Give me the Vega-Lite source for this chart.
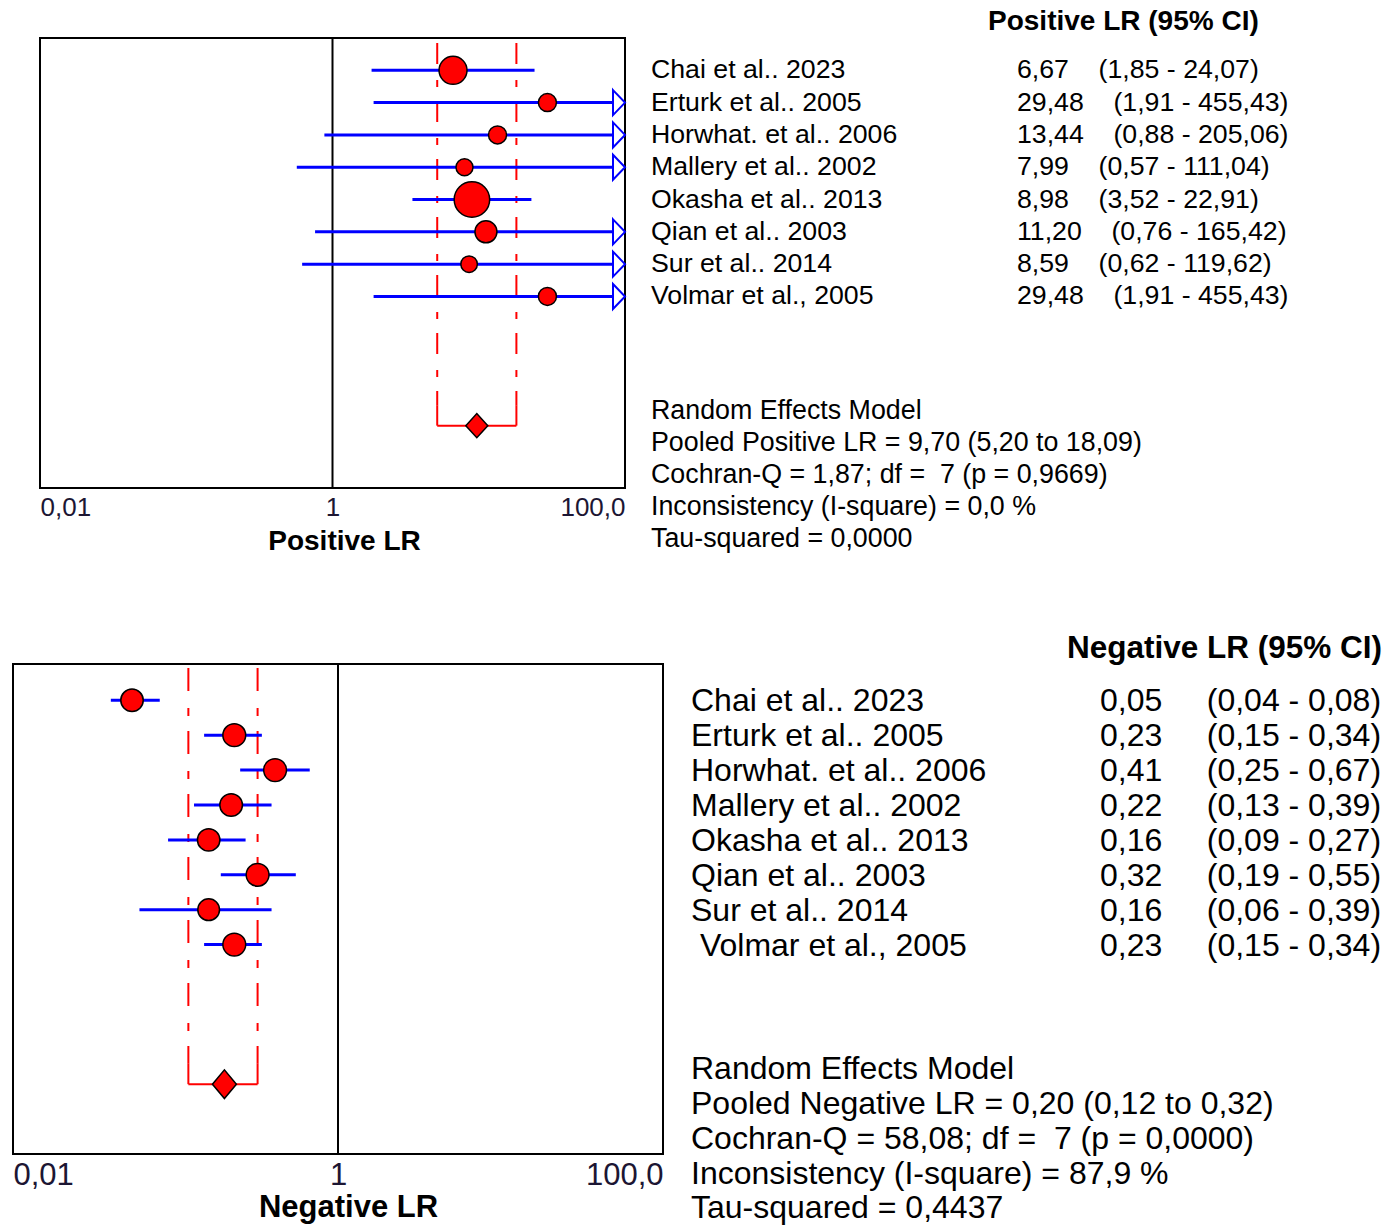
{
  "$schema": "https://vega.github.io/schema/vega-lite/v6.json",
  "padding": {"left": 12, "top": 8, "right": 0, "bottom": 0},
  "autosize": {"type": "pad"},
  "background": "white",
  "config": {
    "view": {"stroke": null},
    "font": "Liberation Sans"
  },
  "datasets": {
    "pos": [
      {"row": 1, "study": "Chai et al.. 2023", "lr": 6.67, "lo": 1.85, "hi": 24.07, "w": 19.3, "stat": "6,67\u00a0\u00a0\u00a0\u00a0(1,85 - 24,07)"},
      {"row": 2, "study": "Erturk et al.. 2005", "lr": 29.48, "lo": 1.91, "hi": 455.43, "w": 8.0, "stat": "29,48\u00a0\u00a0\u00a0\u00a0(1,91 - 455,43)"},
      {"row": 3, "study": "Horwhat. et al.. 2006", "lr": 13.44, "lo": 0.88, "hi": 205.06, "w": 8.0, "stat": "13,44\u00a0\u00a0\u00a0\u00a0(0,88 - 205,06)"},
      {"row": 4, "study": "Mallery et al.. 2002", "lr": 7.99, "lo": 0.57, "hi": 111.04, "w": 7.1, "stat": "7,99\u00a0\u00a0\u00a0\u00a0(0,57 - 111,04)"},
      {"row": 5, "study": "Okasha et al.. 2013", "lr": 8.98, "lo": 3.52, "hi": 22.91, "w": 31.0, "stat": "8,98\u00a0\u00a0\u00a0\u00a0(3,52 - 22,91)"},
      {"row": 6, "study": "Qian et al.. 2003", "lr": 11.20, "lo": 0.76, "hi": 165.42, "w": 11.9, "stat": "11,20\u00a0\u00a0\u00a0\u00a0(0,76 - 165,42)"},
      {"row": 7, "study": "Sur et al.. 2014", "lr": 8.59, "lo": 0.62, "hi": 119.62, "w": 6.7, "stat": "8,59\u00a0\u00a0\u00a0\u00a0(0,62 - 119,62)"},
      {"row": 8, "study": "Volmar et al., 2005", "lr": 29.48, "lo": 1.91, "hi": 455.43, "w": 8.0, "stat": "29,48\u00a0\u00a0\u00a0\u00a0(1,91 - 455,43)"}
    ],
    "posPool": [
      {"row": 12, "start": 0, "col": "study", "est": 9.70, "lo": 5.20, "hi": 18.09, "summary": ["Random Effects Model", "Pooled Positive LR = 9,70 (5,20 to 18,09)", "Cochran-Q = 1,87; df =\u00a0 7 (p = 0,9669)", "Inconsistency (I-square) = 0,0 %", "Tau-squared = 0,0000"]}
    ],
    "posHead": [{"col": "stat", "row": 0, "txt": "Positive LR (95% CI)"}],
    "neg": [
      {"row": 1, "study": "Chai et al.. 2023", "lr": 0.054, "lo": 0.04, "hi": 0.08, "w": 12.4, "stat": "0,05\u00a0\u00a0\u00a0\u00a0\u00a0(0,04 - 0,08)"},
      {"row": 2, "study": "Erturk et al.. 2005", "lr": 0.23, "lo": 0.15, "hi": 0.34, "w": 12.8, "stat": "0,23\u00a0\u00a0\u00a0\u00a0\u00a0(0,15 - 0,34)"},
      {"row": 3, "study": "Horwhat. et al.. 2006", "lr": 0.41, "lo": 0.25, "hi": 0.67, "w": 12.8, "stat": "0,41\u00a0\u00a0\u00a0\u00a0\u00a0(0,25 - 0,67)"},
      {"row": 4, "study": "Mallery et al.. 2002", "lr": 0.22, "lo": 0.13, "hi": 0.39, "w": 12.6, "stat": "0,22\u00a0\u00a0\u00a0\u00a0\u00a0(0,13 - 0,39)"},
      {"row": 5, "study": "Okasha et al.. 2013", "lr": 0.16, "lo": 0.09, "hi": 0.27, "w": 12.4, "stat": "0,16\u00a0\u00a0\u00a0\u00a0\u00a0(0,09 - 0,27)"},
      {"row": 6, "study": "Qian et al.. 2003", "lr": 0.32, "lo": 0.19, "hi": 0.55, "w": 12.8, "stat": "0,32\u00a0\u00a0\u00a0\u00a0\u00a0(0,19 - 0,55)"},
      {"row": 7, "study": "Sur et al.. 2014", "lr": 0.16, "lo": 0.06, "hi": 0.39, "w": 11.6, "stat": "0,16\u00a0\u00a0\u00a0\u00a0\u00a0(0,06 - 0,39)"},
      {"row": 8, "study": "\u200b\u00a0Volmar et al., 2005", "lr": 0.23, "lo": 0.15, "hi": 0.34, "w": 12.8, "stat": "0,23\u00a0\u00a0\u00a0\u00a0\u00a0(0,15 - 0,34)"}
    ],
    "negPool": [
      {"row": 12, "start": -0.04, "col": "study", "est": 0.20, "lo": 0.12, "hi": 0.32, "summary": ["Random Effects Model", "Pooled Negative LR = 0,20 (0,12 to 0,32)", "Cochran-Q = 58,08; df =\u00a0 7 (p = 0,0000)", "Inconsistency (I-square) = 87,9 %", "Tau-squared = 0,4437"]}
    ],
    "negHead": [{"col": "stat", "row": -0.04, "txt": "Negative LR (95% CI)"}]
  },
  "spacing": 77,
  "vconcat": [
    {
      "spacing": 21,
      "hconcat": [
        {
          "width": 5, "height": 450,
          "data": {"values": [{"v": 0}]},
          "mark": {"type": "point", "opacity": 0, "size": 0},
          "encoding": {"y": {"field": "v", "type": "quantitative", "axis": null}}
        },
        {
          "width": 585, "height": 450,
          "view": {"stroke": "black", "strokeWidth": 2},
          "layer": [
            {
              "data": {"values": [{"ref": 1}]},
              "mark": {"type": "rule", "color": "black", "strokeWidth": 2},
              "encoding": {
                "x": {"field": "ref", "type": "quantitative",
                  "scale": {"type": "log", "domain": [0.01, 100], "clamp": true, "nice": false},
                  "axis": {"values": [0.01, 1, 100], "labelExpr": "datum.value < 0.1 ? '0,01' : datum.value < 10 ? '1' : '100,0'",
                    "ticks": false, "tickSize": 0, "domain": false, "grid": false, "labelFlush": true, "labelOverlap": false,
                    "labelFontSize": 26, "labelFont": "Liberation Sans", "labelColor": "#1c1633", "labelPadding": 6,
                    "title": "Positive LR", "titleFontSize": 28, "titleFontWeight": "bold", "titleFont": "Liberation Sans",
                    "titleColor": "black", "titlePadding": 7, "titleX": 304}}
              }
            },
            {
              "data": {"name": "posPool"},
              "transform": [{"fold": ["lo", "hi"], "as": ["bound", "bval"]}],
              "mark": {"type": "rule", "color": "#ff0000", "strokeWidth": 2, "strokeDash": [21, 16, 7, 14], "strokeDashOffset": 53, "y2Offset": -20},
              "encoding": {
                "x": {"field": "bval", "type": "quantitative"},
                "y": {"field": "start", "type": "quantitative", "scale": {"domain": [0, 13.93], "reverse": true, "nice": false, "zero": false}, "axis": null},
                "y2": {"field": "row"}
              }
            },
            {
              "data": {"name": "posPool"},
              "transform": [{"fold": ["lo", "hi"], "as": ["bound", "bval"]}],
              "mark": {"type": "rule", "color": "#ff0000", "strokeWidth": 2, "yOffset": -20},
              "encoding": {
                "x": {"field": "bval", "type": "quantitative"},
                "y": {"field": "row", "type": "quantitative", "axis": null},
                "y2": {"field": "row"}
              }
            },
            {
              "data": {"name": "posPool"},
              "mark": {"type": "rule", "color": "#ff0000", "strokeWidth": 2},
              "encoding": {
                "x": {"field": "lo", "type": "quantitative"},
                "x2": {"field": "hi"},
                "y": {"field": "row", "type": "quantitative", "axis": null}
              }
            },
            {
              "data": {"name": "pos"},
              "mark": {"type": "rule", "color": "#0000ff", "strokeWidth": 3},
              "encoding": {
                "x": {"field": "lo", "type": "quantitative"},
                "x2": {"field": "hi"},
                "y": {"field": "row", "type": "quantitative", "axis": null}
              }
            },
            {
              "data": {"name": "pos"},
              "transform": [{"filter": "datum.hi > 100"}],
              "mark": {"type": "point", "shape": "M -0.96 -1 L 0 0 L -0.96 1 Z", "size": 625, "filled": true, "fill": "white", "stroke": "#0000ff", "strokeWidth": 2, "opacity": 1},
              "encoding": {
                "x": {"field": "hi", "type": "quantitative"},
                "y": {"field": "row", "type": "quantitative", "axis": null}
              }
            },
            {
              "data": {"name": "pos"},
              "mark": {"type": "point", "shape": "circle", "filled": true, "fill": "#ff0000", "stroke": "black", "strokeWidth": 1.5, "opacity": 1},
              "encoding": {
                "x": {"field": "lr", "type": "quantitative"},
                "y": {"field": "row", "type": "quantitative", "axis": null},
                "size": {"field": "w", "type": "quantitative", "scale": {"domain": [0, 100], "range": [0, 4061]}, "legend": null}
              }
            },
            {
              "data": {"name": "posPool"},
              "mark": {"type": "point", "shape": "M -1 0 L 0 -1.1 L 1 0 L 0 1.1 Z", "size": 484, "filled": true, "fill": "#ff0000", "stroke": "black", "strokeWidth": 1.5, "opacity": 1},
              "encoding": {
                "x": {"field": "est", "type": "quantitative"},
                "y": {"field": "row", "type": "quantitative", "axis": null}
              }
            }
          ]
        },
        {
          "width": 366, "height": 450,
          "layer": [
            {
              "data": {"name": "pos"},
              "transform": [{"fold": ["study", "stat"], "as": ["col", "txt"]}],
              "mark": {"type": "text", "align": "left", "baseline": "middle", "fontSize": 26.7, "font": "Liberation Sans", "color": "black"},
              "encoding": {
                "x": {"field": "col", "type": "nominal", "scale": {"type": "point", "domain": ["study", "stat"], "padding": 0}, "axis": null},
                "y": {"field": "row", "type": "quantitative", "scale": {"domain": [0, 13.93], "reverse": true, "nice": false, "zero": false}, "axis": null},
                "text": {"field": "txt", "type": "nominal"}
              }
            },
            {
              "data": {"name": "posHead"},
              "mark": {"type": "text", "align": "left", "baseline": "middle", "fontSize": 28, "fontWeight": "bold", "font": "Liberation Sans", "color": "black", "dx": -29, "dy": -16},
              "encoding": {
                "x": {"field": "col", "type": "nominal"},
                "y": {"field": "row", "type": "quantitative"},
                "text": {"field": "txt", "type": "nominal"}
              }
            },
            {
              "data": {"name": "posPool"},
              "mark": {"type": "text", "align": "left", "baseline": "top", "fontSize": 26.8, "font": "Liberation Sans", "color": "black", "lineHeight": 32.2, "dy": -28},
              "encoding": {
                "x": {"field": "col", "type": "nominal"},
                "y": {"field": "row", "type": "quantitative"},
                "text": {"field": "summary", "type": "nominal"}
              }
            }
          ]
        }
      ]
    },
    {
      "spacing": 27,
      "hconcat": [
        {
          "width": 650, "height": 490,
          "view": {"stroke": "black", "strokeWidth": 2},
          "layer": [
            {
              "data": {"values": [{"ref": 1}]},
              "mark": {"type": "rule", "color": "black", "strokeWidth": 2},
              "encoding": {
                "x": {"field": "ref", "type": "quantitative",
                  "scale": {"type": "log", "domain": [0.01, 100], "clamp": true, "nice": false},
                  "axis": {"values": [0.01, 1, 100], "labelExpr": "datum.value < 0.1 ? '0,01' : datum.value < 10 ? '1' : '100,0'",
                    "ticks": false, "tickSize": 0, "domain": false, "grid": false, "labelFlush": true, "labelOverlap": false,
                    "labelFontSize": 31, "labelFont": "Liberation Sans", "labelColor": "#1c1633", "labelPadding": 6,
                    "title": "Negative LR", "titleFontSize": 31, "titleFontWeight": "bold", "titleFont": "Liberation Sans",
                    "titleColor": "black", "titlePadding": 2, "titleX": 335}}
              }
            },
            {
              "data": {"name": "negPool"},
              "transform": [{"fold": ["lo", "hi"], "as": ["bound", "bval"]}],
              "mark": {"type": "rule", "color": "#ff0000", "strokeWidth": 2, "strokeDash": [23, 17, 8, 15], "strokeDashOffset": 59, "y2Offset": -21},
              "encoding": {
                "x": {"field": "bval", "type": "quantitative"},
                "y": {"field": "start", "type": "quantitative", "scale": {"domain": [-0.04, 14.0], "reverse": true, "nice": false, "zero": false}, "axis": null},
                "y2": {"field": "row"}
              }
            },
            {
              "data": {"name": "negPool"},
              "transform": [{"fold": ["lo", "hi"], "as": ["bound", "bval"]}],
              "mark": {"type": "rule", "color": "#ff0000", "strokeWidth": 2, "yOffset": -21},
              "encoding": {
                "x": {"field": "bval", "type": "quantitative"},
                "y": {"field": "row", "type": "quantitative", "axis": null},
                "y2": {"field": "row"}
              }
            },
            {
              "data": {"name": "negPool"},
              "mark": {"type": "rule", "color": "#ff0000", "strokeWidth": 2},
              "encoding": {
                "x": {"field": "lo", "type": "quantitative"},
                "x2": {"field": "hi"},
                "y": {"field": "row", "type": "quantitative", "axis": null}
              }
            },
            {
              "data": {"name": "neg"},
              "mark": {"type": "rule", "color": "#0000ff", "strokeWidth": 3},
              "encoding": {
                "x": {"field": "lo", "type": "quantitative"},
                "x2": {"field": "hi"},
                "y": {"field": "row", "type": "quantitative", "axis": null}
              }
            },
            {
              "data": {"name": "neg"},
              "mark": {"type": "point", "shape": "circle", "filled": true, "fill": "#ff0000", "stroke": "black", "strokeWidth": 1.5, "opacity": 1},
              "encoding": {
                "x": {"field": "lr", "type": "quantitative"},
                "y": {"field": "row", "type": "quantitative", "axis": null},
                "size": {"field": "w", "type": "quantitative", "scale": {"domain": [0, 100], "range": [0, 5000]}, "legend": null}
              }
            },
            {
              "data": {"name": "negPool"},
              "mark": {"type": "point", "shape": "M -1 0 L 0 -1.2 L 1 0 L 0 1.2 Z", "size": 576, "filled": true, "fill": "#ff0000", "stroke": "black", "strokeWidth": 1.5, "opacity": 1},
              "encoding": {
                "x": {"field": "est", "type": "quantitative"},
                "y": {"field": "row", "type": "quantitative", "axis": null}
              }
            }
          ]
        },
        {
          "width": 409, "height": 490,
          "layer": [
            {
              "data": {"name": "neg"},
              "transform": [{"fold": ["study", "stat"], "as": ["col", "txt"]}],
              "mark": {"type": "text", "align": "left", "baseline": "middle", "fontSize": 32, "font": "Liberation Sans", "color": "black", "dy": 1},
              "encoding": {
                "x": {"field": "col", "type": "nominal", "scale": {"type": "point", "domain": ["study", "stat"], "padding": 0}, "axis": null},
                "y": {"field": "row", "type": "quantitative", "scale": {"domain": [-0.04, 14.0], "reverse": true, "nice": false, "zero": false}, "axis": null},
                "text": {"field": "txt", "type": "nominal"}
              }
            },
            {
              "data": {"name": "negHead"},
              "mark": {"type": "text", "align": "left", "baseline": "middle", "fontSize": 31.5, "fontWeight": "bold", "font": "Liberation Sans", "color": "black", "dx": -33, "dy": -15},
              "encoding": {
                "x": {"field": "col", "type": "nominal"},
                "y": {"field": "row", "type": "quantitative"},
                "text": {"field": "txt", "type": "nominal"}
              }
            },
            {
              "data": {"name": "negPool"},
              "mark": {"type": "text", "align": "left", "baseline": "top", "fontSize": 32, "font": "Liberation Sans", "color": "black", "lineHeight": 34.8, "dy": -30},
              "encoding": {
                "x": {"field": "col", "type": "nominal"},
                "y": {"field": "row", "type": "quantitative"},
                "text": {"field": "summary", "type": "nominal"}
              }
            }
          ]
        }
      ]
    }
  ]
}
